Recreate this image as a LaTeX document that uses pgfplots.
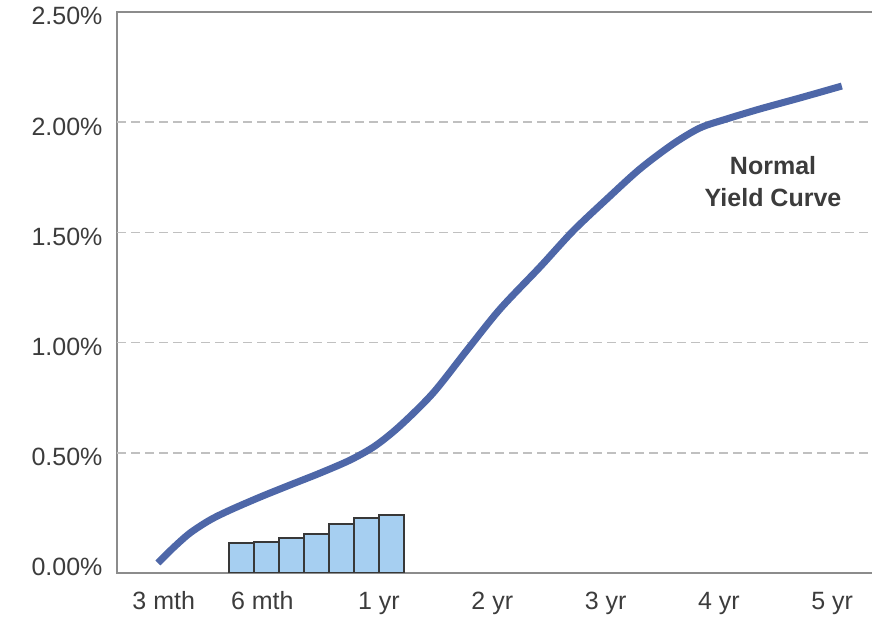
\documentclass[border=0pt]{standalone}
\usepackage{fontspec}
\setmainfont{Liberation Sans}
\usepackage{pgfplots}
\pgfplotsset{compat=1.18}
\usepackage{pgfplotstable}

\definecolor{curveblue}{HTML}{4E67A8}
\definecolor{barfill}{HTML}{A6CFF1}
\definecolor{baredge}{HTML}{383838}
\definecolor{axisgray}{HTML}{8C8C8C}
\definecolor{gridgray}{HTML}{C0C0C0}
\definecolor{textgray}{HTML}{3C3C3C}

% yield (%) against maturity position
\pgfplotstableread{
x y
-0.951 0.000
-0.818 0.068
-0.668 0.136
-0.492 0.195
-0.315 0.240
-0.050 0.299
0.215 0.354
0.480 0.408
0.745 0.467
0.965 0.531
1.185 0.622
1.477 0.771
1.777 0.966
2.068 1.152
2.421 1.343
2.712 1.506
3.012 1.652
3.303 1.788
3.595 1.901
3.833 1.974
4.071 2.015
4.362 2.060
4.715 2.110
5.085 2.164
}\curvedata

\begin{document}
\begin{tikzpicture}
\useasboundingbox (0,0) rectangle (872bp,618bp);
\begin{axis}[
  at={(117bp,45bp)}, anchor=south west,
  scale only axis, width=757bp, height=561bp,
  xmin=-1.3125, xmax=5.369, ymin=-0.0454, ymax=2.5,
  axis line style={draw=axisgray, line width=1.5bp},
  tick style={draw=none},
  xtick={-0.9,-0.03,1,2,3,4,5},
  xticklabels={3 mth,6 mth,1 yr,2 yr,3 yr,4 yr,5 yr},
  ytick={0,0.5,1,1.5,2,2.5},
  yticklabels={0.00\%,0.50\%,1.00\%,1.50\%,2.00\%,2.50\%},
  extra y ticks={0.5,1,1.5,2},
  extra y tick labels={},
  extra y tick style={grid=major, major tick length=0pt},
  major grid style={draw=gridgray, line width=1.5bp, dash pattern=on 9bp off 5bp},
  tick label style={font=\fontsize{25bp}{30bp}\selectfont, text=textgray},
  xticklabel style={anchor=base, yshift=-37bp},
  yticklabel style={anchor=base east, yshift=-13bp, xshift=-11bp},
]
% short-term bars, standing on the bottom of the plot area
\addplot[fill=barfill, draw=baredge, line width=2bp] coordinates {(-0.324,-0.0454) (-0.324,0.089) (-0.103,0.089) (-0.103,-0.0454)} -- cycle;
\addplot[fill=barfill, draw=baredge, line width=2bp] coordinates {(-0.103,-0.0454) (-0.103,0.097) (0.117,0.097) (0.117,-0.0454)} -- cycle;
\addplot[fill=barfill, draw=baredge, line width=2bp] coordinates {(0.117,-0.0454) (0.117,0.115) (0.338,0.115) (0.338,-0.0454)} -- cycle;
\addplot[fill=barfill, draw=baredge, line width=2bp] coordinates {(0.338,-0.0454) (0.338,0.132) (0.559,0.132) (0.559,-0.0454)} -- cycle;
\addplot[fill=barfill, draw=baredge, line width=2bp] coordinates {(0.559,-0.0454) (0.559,0.176) (0.780,0.176) (0.780,-0.0454)} -- cycle;
\addplot[fill=barfill, draw=baredge, line width=2bp] coordinates {(0.780,-0.0454) (0.780,0.203) (1.000,0.203) (1.000,-0.0454)} -- cycle;
\addplot[fill=barfill, draw=baredge, line width=2bp] coordinates {(1.000,-0.0454) (1.000,0.218) (1.221,0.218) (1.221,-0.0454)} -- cycle;
% the yield curve
\addplot[curveblue, line width=7bp, smooth, no markers] table[x=x, y=y] {\curvedata};
\node[align=center, text=textgray, font=\fontsize{25bp}{32bp}\selectfont\bfseries]
  at (axis cs:4.478,1.729) {Normal\\Yield Curve};
\end{axis}
\end{tikzpicture}
\end{document}
